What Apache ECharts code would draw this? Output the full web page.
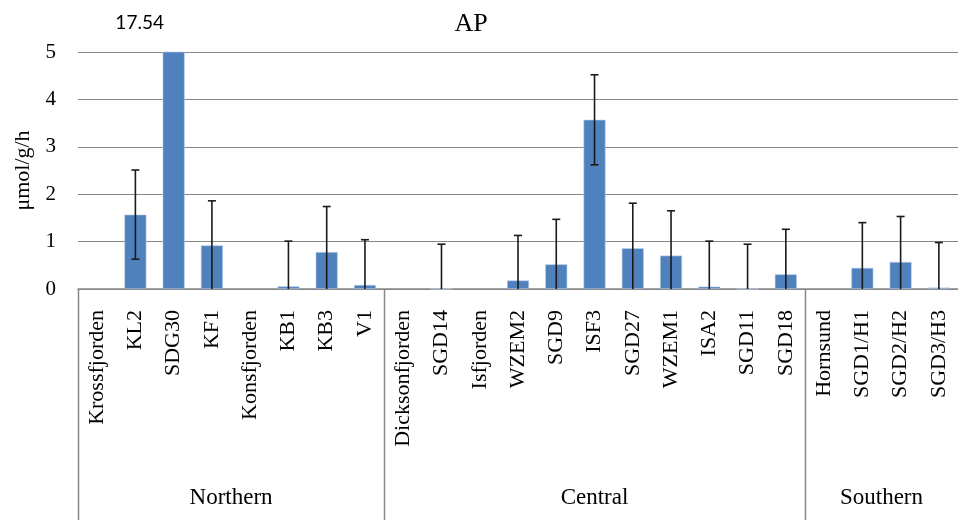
<!DOCTYPE html>
<html>
<head>
<meta charset="utf-8">
<script src="https://cdn.jsdelivr.net/npm/echarts@6/dist/echarts.min.js"></script>
<style>
  html, body { margin: 0; padding: 0; background: #fff; }
  #chart { width: 958px; height: 520px; }
</style>
</head>
<body>
<div id="chart"></div>
<script>
// Sampling stations along the fjords, grouped by region
const stations = [
  'Krossfjorden', 'KL2', 'SDG30', 'KF1', 'Konsfjorden', 'KB1', 'KB3', 'V1',
  'Dicksonfjorden', 'SGD14', 'Isfjorden', 'WZEM2', 'SGD9', 'ISF3', 'SGD27', 'WZEM1', 'ISA2', 'SGD11', 'SGD18',
  'Hornsund', 'SGD1/H1', 'SGD2/H2', 'SGD3/H3'
];
const regions = ['Northern', 'Central', 'Southern'];
const regionSizes = [8, 11, 4];

// AP activity (µmol/g/h); null = fjord heading, no measurement
const apMean = [
  null, 1.57, 17.54, 0.92, null, 0.055, 0.78, 0.085,
  null, 0, null, 0.18, 0.52, 3.57, 0.86, 0.705, 0.05, 0, 0.31,
  null, 0.445, 0.57, 0.03
];
// Standard deviation
const apSd = [
  null, 0.94, null, 0.94, null, 0.955, 0.96, 0.955,
  null, 0.945, null, 0.95, 0.95, 0.95, 0.95, 0.945, 0.96, 0.945, 0.95,
  null, 0.955, 0.96, 0.95
];

const yTicks = [0, 1, 2, 3, 4, 5];
const yMin = yTicks[0], yMax = yTicks[yTicks.length - 1];

const serif = '"Liberation Serif", "DejaVu Serif", serif';
const gridColor = '#878787';

const chart = echarts.init(document.getElementById('chart'), null, { renderer: 'canvas' });

const errorData = stations.map((s, i) => [i, apMean[i], apSd[i]]).filter(d => d[1] != null && d[2] != null);

chart.setOption({
  animation: false,
  title: {
    text: 'AP',
    left: 466,
    top: 6,
    textAlign: 'center',
    textStyle: { fontFamily: serif, fontSize: 26, fontWeight: 'normal', color: '#000' }
  },
  grid: { left: 78, top: 52, width: 885, height: 237 },
  xAxis: {
    type: 'category',
    data: stations,
    axisLine: { lineStyle: { color: gridColor, width: 1.5 } },
    axisTick: { show: false },
    axisLabel: {
      interval: 0,
      rotate: 90,
      margin: 21,
      fontFamily: serif,
      fontSize: 22,
      color: '#000'
    }
  },
  yAxis: {
    type: 'value',
    min: yMin,
    max: yMax,
    interval: 1,
    name: 'μmol/g/h',
    nameLocation: 'middle',
    nameRotate: 90,
    nameGap: 44,
    nameTextStyle: { fontFamily: serif, fontSize: 22, color: '#000' },
    axisLine: { show: false },
    axisTick: { show: false },
    axisLabel: { margin: 22, fontFamily: serif, fontSize: 21, color: '#000' },
    splitLine: { lineStyle: { color: gridColor, width: 1.2 } }
  },
  series: [
    {
      type: 'bar',
      data: apMean,
      barWidth: 22,
      clip: true,
      itemStyle: { color: '#4f81bd', borderColor: '#b9cde5', borderWidth: 0.6 }
    },
    {
      type: 'custom',
      data: errorData,
      clip: true,
      z: 5,
      renderItem: function (params, api) {
        const idx = api.value(0);
        const mean = api.value(1);
        const sd = api.value(2);
        const lo = Math.max(yMin, mean - sd);
        const hi = mean + sd;
        const top = api.coord([idx, hi]);
        const bot = api.coord([idx, lo]);
        const cap = 4;
        const style = { stroke: '#1a1a1a', lineWidth: 1.6 };
        const children = [
          { type: 'line', shape: { x1: top[0], y1: top[1], x2: bot[0], y2: bot[1] }, style: style },
          { type: 'line', shape: { x1: top[0] - cap, y1: top[1], x2: top[0] + cap, y2: top[1] }, style: style }
        ];
        if (mean - sd > yMin) {
          children.push({ type: 'line', shape: { x1: bot[0] - cap, y1: bot[1], x2: bot[0] + cap, y2: bot[1] }, style: style });
        }
        return { type: 'group', children: children };
      }
    }
  ]
});

// Region dividers, region names and the off-scale value note, placed from the axis scales
function drawAnnotations() {
  const first = chart.convertToPixel({ xAxisIndex: 0 }, stations[0]);
  const second = chart.convertToPixel({ xAxisIndex: 0 }, stations[1]);
  const band = second - first;
  const axisY = chart.convertToPixel({ yAxisIndex: 0 }, yMin);
  const bottom = 520;
  const elements = [];
  let start = 0;
  for (let g = 0; g < regions.length; g++) {
    const end = start + regionSizes[g] - 1;
    const left = chart.convertToPixel({ xAxisIndex: 0 }, stations[start]) - band / 2;
    const right = chart.convertToPixel({ xAxisIndex: 0 }, stations[end]) + band / 2;
    elements.push({
      type: 'line',
      shape: { x1: Math.round(left) + 0.5, y1: axisY, x2: Math.round(left) + 0.5, y2: bottom },
      style: { stroke: gridColor, lineWidth: 1.5 }
    });
    elements.push({
      type: 'text',
      x: (left + right) / 2,
      y: 498,
      style: {
        text: regions[g],
        fontFamily: serif,
        fontSize: 23,
        fill: '#000',
        align: 'center',
        verticalAlign: 'middle'
      }
    });
    start = end + 1;
  }
  // SDG30 exceeds the axis range; its value is written above the plot
  const offIdx = apMean.findIndex(v => v != null && v > yMax);
  if (offIdx >= 0) {
    const px = chart.convertToPixel({ xAxisIndex: 0 }, stations[offIdx]);
    const py = chart.convertToPixel({ yAxisIndex: 0 }, yMax);
    elements.push({
      type: 'text',
      x: px - 34,
      y: py - 29,
      style: {
        text: apMean[offIdx].toFixed(2),
        fontFamily: '"Lato", "Open Sans", sans-serif',
        fontSize: 19,
        fill: '#000',
        align: 'center',
        verticalAlign: 'middle'
      }
    });
  }
  chart.setOption({ graphic: { elements: elements } });
}
drawAnnotations();
</script>
</body>
</html>
